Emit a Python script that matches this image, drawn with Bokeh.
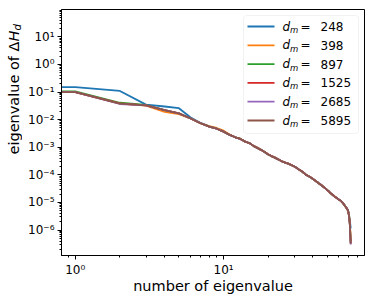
import numpy as np
from bokeh.plotting import figure
from bokeh.layouts import row
from bokeh.models import (Range1d, FixedTicker, CustomJSTickFormatter, Label,
                          BoxAnnotation, Arrow)
from bokeh.embed import file_html
from bokeh.resources import INLINE

# ---------------- data (eigenvalue index 0..72) ----------------
dims = [248, 398, 897, 1525, 2685, 5895]
colors = ["#1f77b4", "#ff7f0e", "#2ca02c", "#d62728", "#9467bd", "#8c564b"]

eig_248 = [1.5e-1, 1.5e-1, 1.1e-1, 3.5e-2, 3.0e-2, 2.6e-2, 1.2e-2, 7.6e-3, 5.7e-3, 4.7e-3,
           3.7e-3, 2.8e-3, 2.3e-3, 2.0e-3, 1.6e-3, 1.4e-3, 1.1e-3, 9.3e-4, 7.9e-4, 6.6e-4,
           5.5e-4, 4.8e-4, 4.3e-4, 3.8e-4, 3.4e-4, 3.0e-4, 2.8e-4, 2.6e-4, 2.4e-4, 2.2e-4,
           2.0e-4, 1.8e-4, 1.6e-4, 1.45e-4, 1.3e-4, 1.15e-4, 1.0e-4, 9.3e-5, 8.5e-5, 7.8e-5,
           7.1e-5, 6.5e-5, 5.9e-5, 5.4e-5, 4.9e-5, 4.5e-5, 4.1e-5, 3.7e-5, 3.4e-5, 3.1e-5,
           2.8e-5, 2.6e-5, 2.3e-5, 2.1e-5, 1.95e-5, 1.8e-5, 1.66e-5, 1.55e-5, 1.45e-5, 1.35e-5,
           1.27e-5, 1.2e-5, 1.13e-5, 1.03e-5, 9.4e-6, 8.4e-6, 7.5e-6, 6.7e-6, 6.0e-6, 5.3e-6,
           3.8e-6, 2.3e-6, 1.15e-6]
eig_398 = [1.0e-1, 1.0e-1, 3.8e-2, 3.2e-2, 1.9e-2, 1.6e-2, 1.1e-2, 7.3e-3, 5.8e-3, 5.0e-3,
           4.0e-3, 2.9e-3, 2.3e-3, 2.0e-3, 1.6e-3, 1.4e-3, 1.1e-3, 9.5e-4, 7.9e-4, 6.7e-4,
           5.5e-4, 4.8e-4, 4.4e-4, 3.8e-4, 3.4e-4, 3.0e-4, 2.8e-4, 2.6e-4, 2.4e-4, 2.2e-4,
           2.0e-4, 1.8e-4, 1.6e-4, 1.45e-4, 1.3e-4, 1.15e-4, 1.0e-4, 9.3e-5, 8.6e-5, 7.8e-5,
           7.1e-5, 6.5e-5, 5.9e-5, 5.4e-5, 4.9e-5, 4.5e-5, 4.1e-5, 3.8e-5, 3.4e-5, 3.1e-5,
           2.8e-5, 2.6e-5, 2.3e-5, 2.1e-5, 1.95e-5, 1.8e-5, 1.68e-5, 1.55e-5, 1.45e-5, 1.35e-5,
           1.26e-5, 1.2e-5, 1.12e-5, 1.02e-5, 9.3e-6, 8.3e-6, 7.4e-6, 6.6e-6, 5.9e-6, 5.1e-6,
           3.6e-6, 2.0e-6, 4.0e-7]
eig_897 = [1.05e-1, 1.05e-1, 4.1e-2, 3.4e-2, 2.2e-2, 1.7e-2, 1.1e-2, 7.4e-3, 5.6e-3, 4.7e-3,
           3.7e-3, 2.8e-3, 2.3e-3, 2.0e-3, 1.6e-3, 1.4e-3, 1.1e-3, 9.3e-4, 7.9e-4, 6.6e-4,
           5.5e-4, 4.8e-4, 4.3e-4, 3.8e-4, 3.4e-4, 3.0e-4, 2.8e-4, 2.6e-4, 2.4e-4, 2.2e-4,
           2.0e-4, 1.8e-4, 1.6e-4, 1.45e-4, 1.3e-4, 1.15e-4, 1.0e-4, 9.3e-5, 8.5e-5, 7.8e-5,
           7.1e-5, 6.5e-5, 5.9e-5, 5.4e-5, 4.9e-5, 4.5e-5, 4.1e-5, 3.7e-5, 3.4e-5, 3.1e-5,
           2.8e-5, 2.6e-5, 2.3e-5, 2.1e-5, 1.95e-5, 1.8e-5, 1.66e-5, 1.55e-5, 1.45e-5, 1.35e-5,
           1.26e-5, 1.2e-5, 1.12e-5, 1.02e-5, 9.3e-6, 8.3e-6, 7.4e-6, 6.6e-6, 5.9e-6, 5.1e-6,
           3.5e-6, 1.7e-6, 3.5e-7]
eig_1525 = [1.0e-1, 1.0e-1, 3.9e-2, 3.3e-2, 2.2e-2, 1.7e-2, 1.1e-2, 7.4e-3, 5.6e-3, 4.7e-3,
            3.7e-3, 2.8e-3, 2.3e-3, 2.0e-3, 1.6e-3, 1.4e-3, 1.1e-3, 9.3e-4, 7.9e-4, 6.6e-4,
            5.6e-4, 4.8e-4, 4.3e-4, 3.8e-4, 3.4e-4, 3.0e-4, 2.8e-4, 2.6e-4, 2.4e-4, 2.2e-4,
            2.0e-4, 1.8e-4, 1.6e-4, 1.45e-4, 1.3e-4, 1.15e-4, 1.0e-4, 9.3e-5, 8.5e-5, 7.8e-5,
            7.1e-5, 6.5e-5, 5.9e-5, 5.4e-5, 4.9e-5, 4.5e-5, 4.1e-5, 3.7e-5, 3.4e-5, 3.1e-5,
            2.8e-5, 2.6e-5, 2.3e-5, 2.1e-5, 1.95e-5, 1.85e-5, 1.66e-5, 1.55e-5, 1.45e-5, 1.35e-5,
            1.26e-5, 1.2e-5, 1.12e-5, 1.02e-5, 9.3e-6, 8.3e-6, 7.4e-6, 6.6e-6, 5.9e-6, 5.1e-6,
            3.5e-6, 1.7e-6, 3.3e-7]
eig_2685 = [1.0e-1, 1.0e-1, 3.7e-2, 3.3e-2, 2.2e-2, 1.7e-2, 1.1e-2, 7.4e-3, 5.6e-3, 4.7e-3,
            3.7e-3, 2.8e-3, 2.3e-3, 1.95e-3, 1.6e-3, 1.4e-3, 1.1e-3, 9.3e-4, 7.9e-4, 6.6e-4,
            5.5e-4, 4.8e-4, 4.3e-4, 3.8e-4, 3.4e-4, 3.0e-4, 2.8e-4, 2.6e-4, 2.4e-4, 2.2e-4,
            2.0e-4, 1.8e-4, 1.6e-4, 1.45e-4, 1.3e-4, 1.15e-4, 1.0e-4, 9.3e-5, 8.5e-5, 7.8e-5,
            7.2e-5, 6.5e-5, 5.9e-5, 5.4e-5, 4.9e-5, 4.5e-5, 4.1e-5, 3.7e-5, 3.4e-5, 3.1e-5,
            2.8e-5, 2.6e-5, 2.3e-5, 2.1e-5, 1.95e-5, 1.8e-5, 1.66e-5, 1.55e-5, 1.45e-5, 1.35e-5,
            1.26e-5, 1.2e-5, 1.12e-5, 1.02e-5, 9.3e-6, 8.3e-6, 7.4e-6, 6.6e-6, 5.9e-6, 5.1e-6,
            3.5e-6, 1.6e-6, 3.0e-7]
eig_5895 = [1.0e-1, 1.0e-1, 3.8e-2, 3.3e-2, 2.2e-2, 1.7e-2, 1.1e-2, 7.4e-3, 5.6e-3, 4.7e-3,
            3.7e-3, 2.8e-3, 2.3e-3, 2.0e-3, 1.6e-3, 1.4e-3, 1.1e-3, 9.3e-4, 7.9e-4, 6.6e-4,
            5.5e-4, 4.8e-4, 4.3e-4, 3.8e-4, 3.4e-4, 3.0e-4, 2.8e-4, 2.6e-4, 2.4e-4, 2.2e-4,
            2.0e-4, 1.8e-4, 1.6e-4, 1.45e-4, 1.3e-4, 1.15e-4, 1.0e-4, 9.3e-5, 8.5e-5, 7.8e-5,
            7.1e-5, 6.5e-5, 5.9e-5, 5.4e-5, 4.9e-5, 4.5e-5, 4.1e-5, 3.7e-5, 3.4e-5, 3.1e-5,
            2.8e-5, 2.6e-5, 2.3e-5, 2.1e-5, 1.95e-5, 1.8e-5, 1.66e-5, 1.55e-5, 1.45e-5, 1.35e-5,
            1.26e-5, 1.2e-5, 1.12e-5, 1.02e-5, 9.3e-6, 8.3e-6, 7.4e-6, 6.6e-6, 5.9e-6, 5.1e-6,
            3.5e-6, 1.6e-6, 3.2e-7]

series = [eig_248, eig_398, eig_897, eig_1525, eig_2685, eig_5895]

x_major = [10.0 ** k for k in range(-1, 3)]
x_minor = [m * 10.0 ** k for k in range(-1, 3) for m in range(2, 10)]
y_major = [10.0 ** k for k in range(-8, 3)]
y_minor = [m * 10.0 ** k for k in range(-8, 3) for m in range(2, 10)]

FONT = "DejaVu Sans"
YLAB_W = 22
TOTAL_W, TOTAL_H = 374, 298

# ---------------- main figure ----------------
idx = np.arange(len(eig_5895))
# index 0 cannot be shown on a log axis; it is clipped to a tiny value (as matplotlib does)
x_plot = np.where(idx == 0, 1e-30, idx).astype(float)
lo, hi = 0.0, np.log10(idx[-1])
pad = 0.05 * (hi - lo)

p = figure(width=TOTAL_W - YLAB_W, height=TOTAL_H, x_axis_type="log", y_axis_type="log",
           x_range=Range1d(10 ** (lo - pad), 10 ** (hi + pad)),
           y_range=Range1d(1.2e-7, 98.0),
           output_backend="svg", toolbar_location=None,
           min_border_left=61 - YLAB_W, min_border_right=10, min_border_top=9,
           min_border_bottom=43)
p.background_fill_color = "white"
p.border_fill_color = "white"
p.outline_line_color = "black"
p.outline_line_width = 1
p.outline_line_alpha = 1
p.xgrid.visible = False
p.ygrid.visible = False

fmt_code = """
const sup = {'-':'\u207b','0':'\u2070','1':'\u00b9','2':'\u00b2','3':'\u00b3','4':'\u2074',
             '5':'\u2075','6':'\u2076','7':'\u2077','8':'\u2078','9':'\u2079'};
const e = Math.round(Math.log10(tick));
return '10' + String(e).split('').map(c => sup[c]).join('');
"""
p.xaxis.ticker = FixedTicker(ticks=x_major, minor_ticks=x_minor)
p.yaxis.ticker = FixedTicker(ticks=y_major, minor_ticks=y_minor)
for ax in (p.xaxis[0], p.yaxis[0]):
    ax.formatter = CustomJSTickFormatter(code=fmt_code)
    ax.axis_line_color = "black"
    ax.major_tick_line_color = "black"
    ax.minor_tick_line_color = "black"
    ax.major_tick_out = 4
    ax.major_tick_in = 0
    ax.minor_tick_out = 2
    ax.minor_tick_in = 0
    ax.major_label_text_font = FONT
    ax.major_label_text_font_size = "12px"
    ax.major_label_text_color = "black"
    ax.major_label_standoff = 3

p.xaxis.axis_label = "number of eigenvalue"
p.xaxis.axis_label_text_font = FONT
p.xaxis.axis_label_text_font_size = "14.5px"
p.xaxis.axis_label_text_font_style = "normal"
p.xaxis.axis_label_text_color = "black"
p.xaxis.axis_label_standoff = -2

for vals, c in zip(series, colors):
    p.line(x_plot, vals, line_color=c, line_width=1.8)

# ---------------- legend ----------------
p.add_layout(BoxAnnotation(left=182, right=297, bottom=122, top=240,
                           left_units="screen", right_units="screen",
                           top_units="screen", bottom_units="screen",
                           fill_color="white", fill_alpha=0.8,
                           line_color="#d5d5d5", line_width=1, border_radius=3,
                           level="overlay"))
for i, (d, c) in enumerate(zip(dims, colors)):
    ry = 229 - 18.8 * i
    p.add_layout(Arrow(start=None, end=None, x_start=186, y_start=ry, x_end=213, y_end=ry,
                       start_units="screen", end_units="screen",
                       line_color=c, line_width=1.8, level="overlay"))
    p.add_layout(Label(x=221, y=ry, x_units="screen", y_units="screen", text="d",
                       text_font=FONT, text_font_size="12px", text_font_style="italic",
                       text_align="left", text_baseline="middle", text_color="black",
                       level="overlay"))
    p.add_layout(Label(x=228.6, y=ry - 3.5, x_units="screen", y_units="screen", text="m",
                       text_font=FONT, text_font_size="8.5px", text_font_style="italic",
                       text_align="left", text_baseline="middle", text_color="black",
                       level="overlay"))
    p.add_layout(Label(x=239, y=ry, x_units="screen", y_units="screen", text="=",
                       text_font=FONT, text_font_size="12px",
                       text_align="left", text_baseline="middle", text_color="black",
                       level="overlay"))
    p.add_layout(Label(x=259, y=ry, x_units="screen", y_units="screen", text=str(d),
                       text_font=FONT, text_font_size="12px",
                       text_align="left", text_baseline="middle", text_color="black",
                       level="overlay"))

# ---------------- y-axis title (rich text) in a narrow side figure ----------------
yl = figure(width=YLAB_W, height=TOTAL_H, x_axis_location=None, y_axis_location=None,
            min_border=0, output_backend="svg", toolbar_location=None,
            x_range=Range1d(0, 1), y_range=Range1d(0, 1))
yl.outline_line_color = None
yl.xgrid.visible = False
yl.ygrid.visible = False
yl.background_fill_color = "white"
yl.border_fill_color = "white"
yl.add_layout(Label(x=13.5, y=101, x_units="screen", y_units="screen", angle=np.pi / 2,
                    text="eigenvalue of \u0394", text_font=FONT, text_font_size="14.5px",
                    text_align="left", text_baseline="middle", text_color="black"))
yl.add_layout(Label(x=13.5, y=214, x_units="screen", y_units="screen", angle=np.pi / 2,
                    text="H", text_font=FONT, text_font_size="14.5px", text_font_style="italic",
                    text_align="left", text_baseline="middle", text_color="black"))
yl.add_layout(Label(x=17, y=225, x_units="screen", y_units="screen", angle=np.pi / 2,
                    text="d", text_font=FONT, text_font_size="10px", text_font_style="italic",
                    text_align="left", text_baseline="middle", text_color="black"))

layout = row(yl, p, spacing=0)
open("out.html", "w").write(file_html(layout, INLINE))
